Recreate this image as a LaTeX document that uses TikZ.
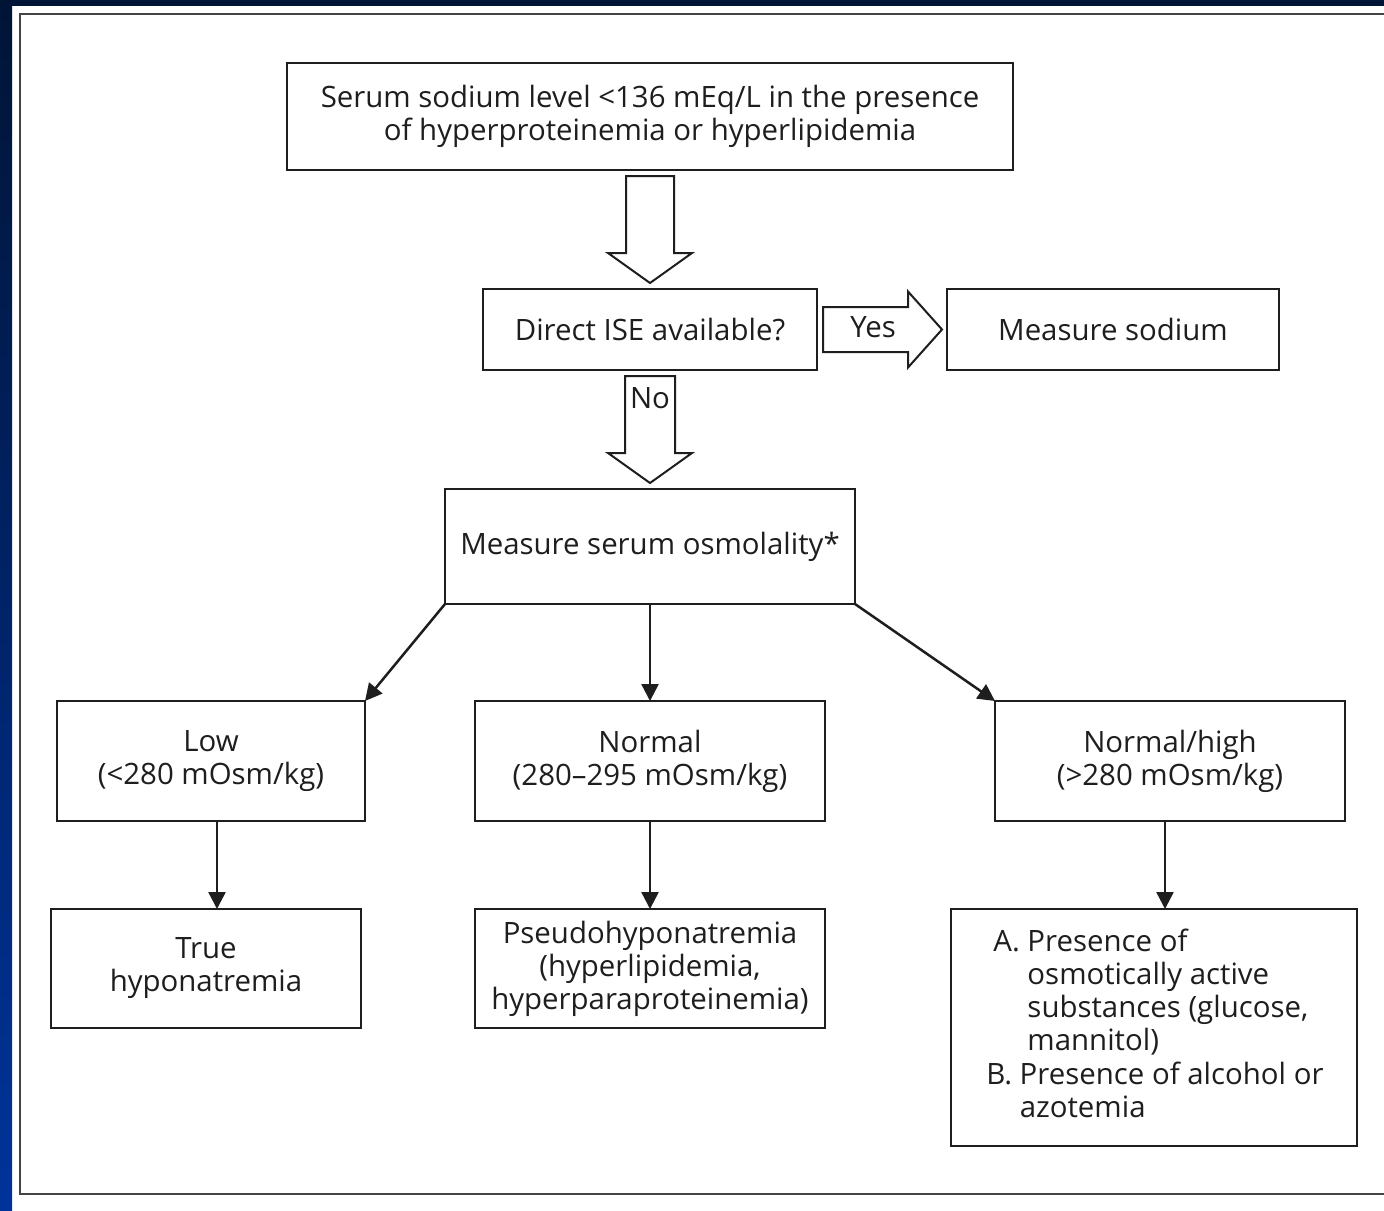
\documentclass[tikz,border=0pt]{standalone}
\usepackage{fontspec}
\setmainfont{Open Sans}
\usetikzlibrary{arrows.meta,calc}
\definecolor{txt}{HTML}{1E1E1E}
\definecolor{navytop}{HTML}{001436}
\definecolor{navybot}{HTML}{00339A}
\definecolor{framec}{HTML}{444444}
\begin{document}
\begin{tikzpicture}[x=0.5pt,y=-0.5pt,
  box/.style={draw=txt, line width=1pt, inner sep=0pt, outer sep=0pt, align=center,
    text=txt, font=\fontsize{14.7}{16.5}\selectfont},
  lbl/.style={inner sep=0pt, text=txt, font=\fontsize{14.7}{16.5}\selectfont},
  thin/.style={draw=txt, line width=1.25pt, -{Triangle[length=8.5pt,width=8.5pt]}},
  blk/.style={draw=txt, line width=1pt, fill=white, line join=miter}]
\useasboundingbox (0,0) rectangle (1384,1210);
% background
\fill[white] (0,0) rectangle (1384,1210);
\fill[navytop] (0,0) rectangle (1384,6);
\shade[top color=navytop, bottom color=navybot] (0,0) rectangle (12,1210);
\draw[framec, line width=1pt] (1384,14) -- (20,14) -- (20,1194) -- (1384,1194);

% nodes
\node[box, minimum width=363pt, minimum height=53.5pt] (top) at (650,116.5)
  {Serum sodium level <136 mEq/L in the presence\\of hyperproteinemia or hyperlipidemia};
\node[box, minimum width=167pt, minimum height=40.5pt] (ise) at (650,329.5) {Direct ISE available?};
\node[box, minimum width=166pt, minimum height=40.5pt] (meas) at (1113,329.5) {Measure sodium};
\node[box, minimum width=205pt, minimum height=57.5pt] (osm) at (650,546.5) {Measure serum osmolality*};
\node[box, minimum width=154pt, minimum height=60pt] (low) at (211,761) {Low\\(<280 mOsm/kg)};
\node[box, minimum width=175pt, minimum height=60pt] (norm) at (650,761) {Normal\\(280–295 mOsm/kg)};
\node[box, minimum width=175pt, minimum height=60pt] (high) at (1170,761) {Normal/high\\(>280 mOsm/kg)};
\node[box, minimum width=155pt, minimum height=59.5pt] (trueh) at (206,968.5) {True\\hyponatremia};
\node[box, minimum width=175pt, minimum height=59.5pt] (pseudo) at (650,968.5)
  {Pseudohyponatremia\\(hyperlipidemia,\\hyperparaproteinemia)};
\node[box, minimum width=203pt, minimum height=118.5pt] (ab) at (1154,1027.5) {};
\node[lbl, anchor=base west] (abA) at (993,951)
  {\begin{tabular}[t]{@{}l@{ }l@{}}A.&Presence of\\&osmotically active\\&substances (glucose,\\&mannitol)\end{tabular}};
\node[lbl, anchor=base west] (abB) at (986,1084)
  {\begin{tabular}[t]{@{}l@{ }l@{}}B.&Presence of alcohol or\\&azotemia\end{tabular}};

% block arrows
\draw[blk] ($(top.south)+(-24,6)$) -- ($(top.south)+(24,6)$) -- ($(ise.north)+(24,-36)$)
  -- ($(ise.north)+(42,-36)$) -- ($(ise.north)+(0,-6)$) -- ($(ise.north)+(-42,-36)$)
  -- ($(ise.north)+(-24,-36)$) -- cycle;
\draw[blk] ($(ise.south)+(-25,6)$) -- ($(ise.south)+(25,6)$) -- ($(osm.north)+(25,-36)$)
  -- ($(osm.north)+(42,-36)$) -- ($(osm.north)+(0,-6)$) -- ($(osm.north)+(-42,-36)$)
  -- ($(osm.north)+(-25,-36)$) -- cycle;
\draw[blk] ($(ise.east)+(6,-22.5)$) -- ($(meas.west)+(-39,-22.5)$) -- ($(meas.west)+(-39,-38)$)
  -- ($(meas.west)+(-5,0)$) -- ($(meas.west)+(-39,38)$) -- ($(meas.west)+(-39,22.5)$)
  -- ($(ise.east)+(6,22.5)$) -- cycle;
\node[lbl] (yes) at (873,327) {Yes};
\node[lbl] (no) at (650,398) {No};

% thin arrows
\draw[thin] (osm.south west) -- (low.north east);
\draw[thin] (osm.south) -- (norm.north);
\draw[thin] (osm.south east) -- (high.north west);
\draw[thin] ([xshift=3pt]low.south) -- ([xshift=3pt]low.south |- trueh.north);
\draw[thin] (norm.south) -- (pseudo.north);
\draw[thin] ([xshift=-2.5pt]high.south) -- ([xshift=-2.5pt]high.south |- ab.north);
\end{tikzpicture}
\end{document}
